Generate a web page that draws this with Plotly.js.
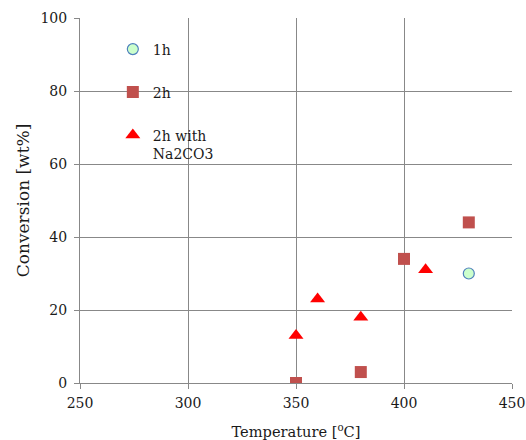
<!DOCTYPE html>
<html><head><meta charset="utf-8">
<script src="https://cdn.plot.ly/plotly-3.0.1.min.js"></script>
<style>html,body{margin:0;padding:0;background:#fff}#c{width:526px;height:440px}</style>
</head><body><div id="c"></div>
<script>
const x1h = [430];
const y1h = [30];
const x2h = [350, 380, 400, 430];
const y2h = [0, 3, 34, 44];
const xNa = [350, 360, 380, 410];
const yNa = [13, 23, 18, 31];
const xTicks = [250, 300, 350, 400, 450];
const yTicks = [0, 20, 40, 60, 80, 100];

const fam = 'DejaVu Serif, serif';
const font = {family: fam, size: 14, color: '#1a1a1a'};
const traces = [
  {x: x1h, y: y1h, name: '1h', mode: 'markers', type: 'scatter', legend: 'legend',
   marker: {symbol: 'circle', size: 11, color: '#CCFFCC', line: {color: '#4F81BD', width: 1.2}}},
  {x: x2h, y: y2h, name: '2h', mode: 'markers', type: 'scatter', legend: 'legend2',
   marker: {symbol: 'square', size: 12, color: '#C0504D', line: {width: 0}}},
  {x: xNa, y: yNa, name: '2h with<br>Na2CO3', mode: 'markers', type: 'scatter', legend: 'legend3',
   marker: {symbol: 'triangle-up', size: 13, color: '#FF0000', line: {width: 0}}}
];
const leg = (y) => ({x: 0.076, y: y, xanchor: 'left', yanchor: 'top', bgcolor: 'rgba(0,0,0,0)',
                     font: font, itemwidth: 30, valign: 'top'});
const layout = {
  width: 526, height: 440,
  margin: {l: 80, r: 14, t: 18, b: 57},
  paper_bgcolor: '#fff', plot_bgcolor: '#fff',
  font: font,
  showlegend: true,
  legend: leg(0.9575),
  legend2: leg(0.8397),
  legend3: leg(0.7219),
  xaxis: {range: [250, 450], tickvals: xTicks, ticks: 'outside', ticklen: 5, tickcolor: '#888',
          ticklabelstandoff: 2,
          showgrid: true, gridcolor: '#888', gridwidth: 1, showline: true, linecolor: '#888',
          zeroline: false, title: {text: 'Temperature [<sup>o</sup>C]', font: {family: fam, size: 14.6, color: '#1a1a1a'}, standoff: 17}},
  yaxis: {range: [0, 100], tickvals: yTicks, ticks: 'outside', ticklen: 5, tickcolor: '#888',
          ticklabelstandoff: 4,
          showgrid: true, gridcolor: '#888', gridwidth: 1, showline: true, linecolor: '#888',
          zeroline: false, title: {text: 'Conversion [wt%]', font: {family: fam, size: 17, color: '#1a1a1a'}, standoff: 6}}
};
Plotly.newPlot('c', traces, layout, {displayModeBar: false});
</script></body></html>
